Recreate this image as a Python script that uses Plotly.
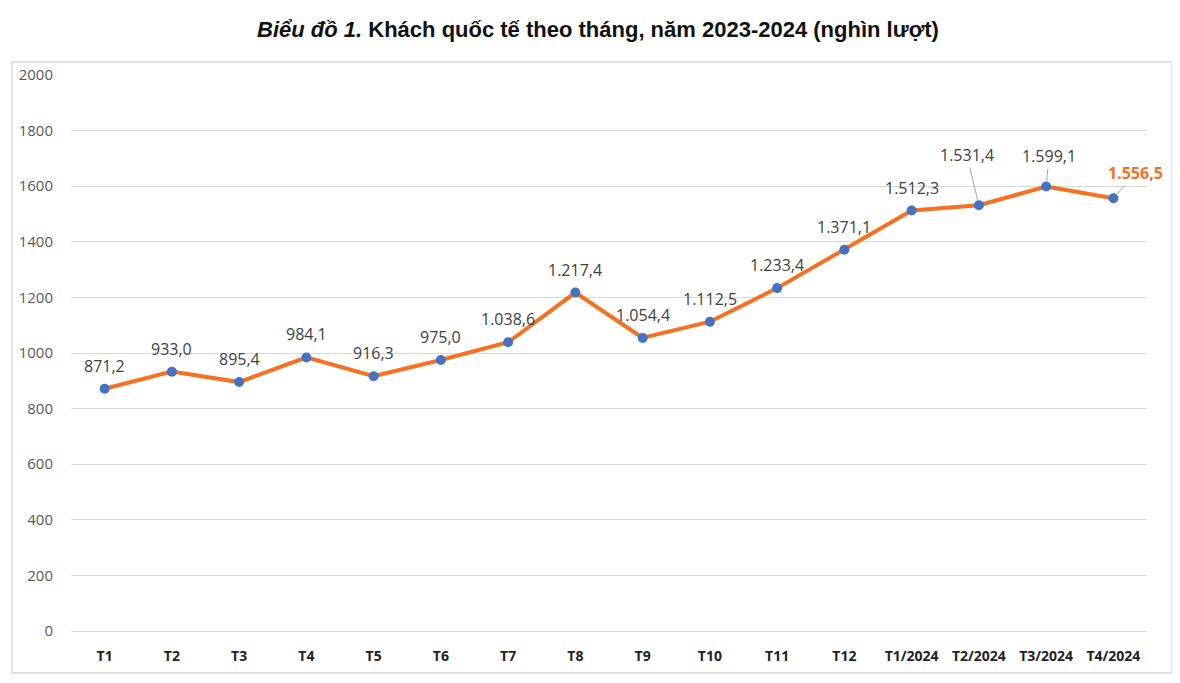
import plotly.graph_objects as go

categories = ["T1", "T2", "T3", "T4", "T5", "T6", "T7", "T8", "T9", "T10", "T11", "T12",
              "T1/2024", "T2/2024", "T3/2024", "T4/2024"]
visitors = [871.2, 933.0, 895.4, 984.1, 916.3, 975.0, 1038.6, 1217.4, 1054.4, 1112.5,
            1233.4, 1371.1, 1512.3, 1531.4, 1599.1, 1556.5]
y_ticks = [0, 200, 400, 600, 800, 1000, 1200, 1400, 1600, 1800, 2000]


def vn(v):
    s = f"{v:,.1f}"
    return s.replace(",", "X").replace(".", ",").replace("X", ".")


fig = go.Figure()
fig.add_trace(go.Scatter(
    x=categories, y=visitors, mode="lines+markers",
    line=dict(color="#F5701F", width=4),
    marker=dict(color="#4472C4", size=10),
    hoverinfo="skip", showlegend=False,
))

# leader-line offsets (pixels) for last three labels
leaders = {13: (-12, -50), 14: (3, -30), 15: (22, -25)}
annotations = []
for i, (c, v) in enumerate(zip(categories, visitors)):
    last = i == len(categories) - 1
    font = dict(family="Open Sans, Liberation Sans, sans-serif", size=16,
                color="#F5701F" if last else "#404040")
    text = f"<b>{vn(v)}</b>" if last else vn(v)
    if i in leaders:
        ax, ay = leaders[i]
        annotations.append(dict(x=c, y=v, xref="x", yref="y", text=text, font=font,
                                showarrow=True, arrowhead=0, arrowwidth=1,
                                arrowcolor="#A6A6A6", ax=ax, ay=ay, standoff=5))
    else:
        annotations.append(dict(x=c, y=v, xref="x", yref="y", text=text, font=font,
                                showarrow=False, yshift=23))

fig.update_layout(
    width=1180, height=683,
    margin=dict(l=63, r=41, t=67, b=60),
    paper_bgcolor="white", plot_bgcolor="white",
    title=dict(
        text="<b><i>Biểu đồ 1.</i> Khách quốc tế theo tháng, năm 2023-2024 (nghìn lượt)</b>",
        x=0.5, xanchor="center", y=1 - 21 / 683, yanchor="middle",
        font=dict(family="Liberation Sans, Arial, sans-serif", size=22, color="#111111"),
    ),
    annotations=annotations,
    shapes=[dict(type="rect", xref="paper", yref="paper",
                 x0=(12 - 71) / 1076, x1=(1172 - 71) / 1076,
                 y0=(631 - 673) / 556, y1=(631 - 62) / 556,
                 line=dict(color="#D9D9D9", width=1.5), layer="below")],
)
fig.update_xaxes(
    type="category", range=[-0.5, len(categories) - 0.5],
    showgrid=False, showline=False, zeroline=False,
    ticks="outside", ticklen=12, tickcolor="rgba(0,0,0,0)",
    tickfont=dict(family="Open Sans, Liberation Sans, sans-serif", size=14, color="#222222",
                  weight="bold"),
)
fig.update_yaxes(
    range=[0, 2000], tickvals=y_ticks, showgrid=True, gridcolor="#D9D9D9", gridwidth=1,
    zeroline=True, zerolinecolor="#D9D9D9", zerolinewidth=1, showline=False,
    ticks="outside", ticklen=14, tickcolor="rgba(0,0,0,0)",
    tickfont=dict(family="Open Sans, Liberation Sans, sans-serif", size=15, color="#595959"),
)

fig.write_html("out.html")
